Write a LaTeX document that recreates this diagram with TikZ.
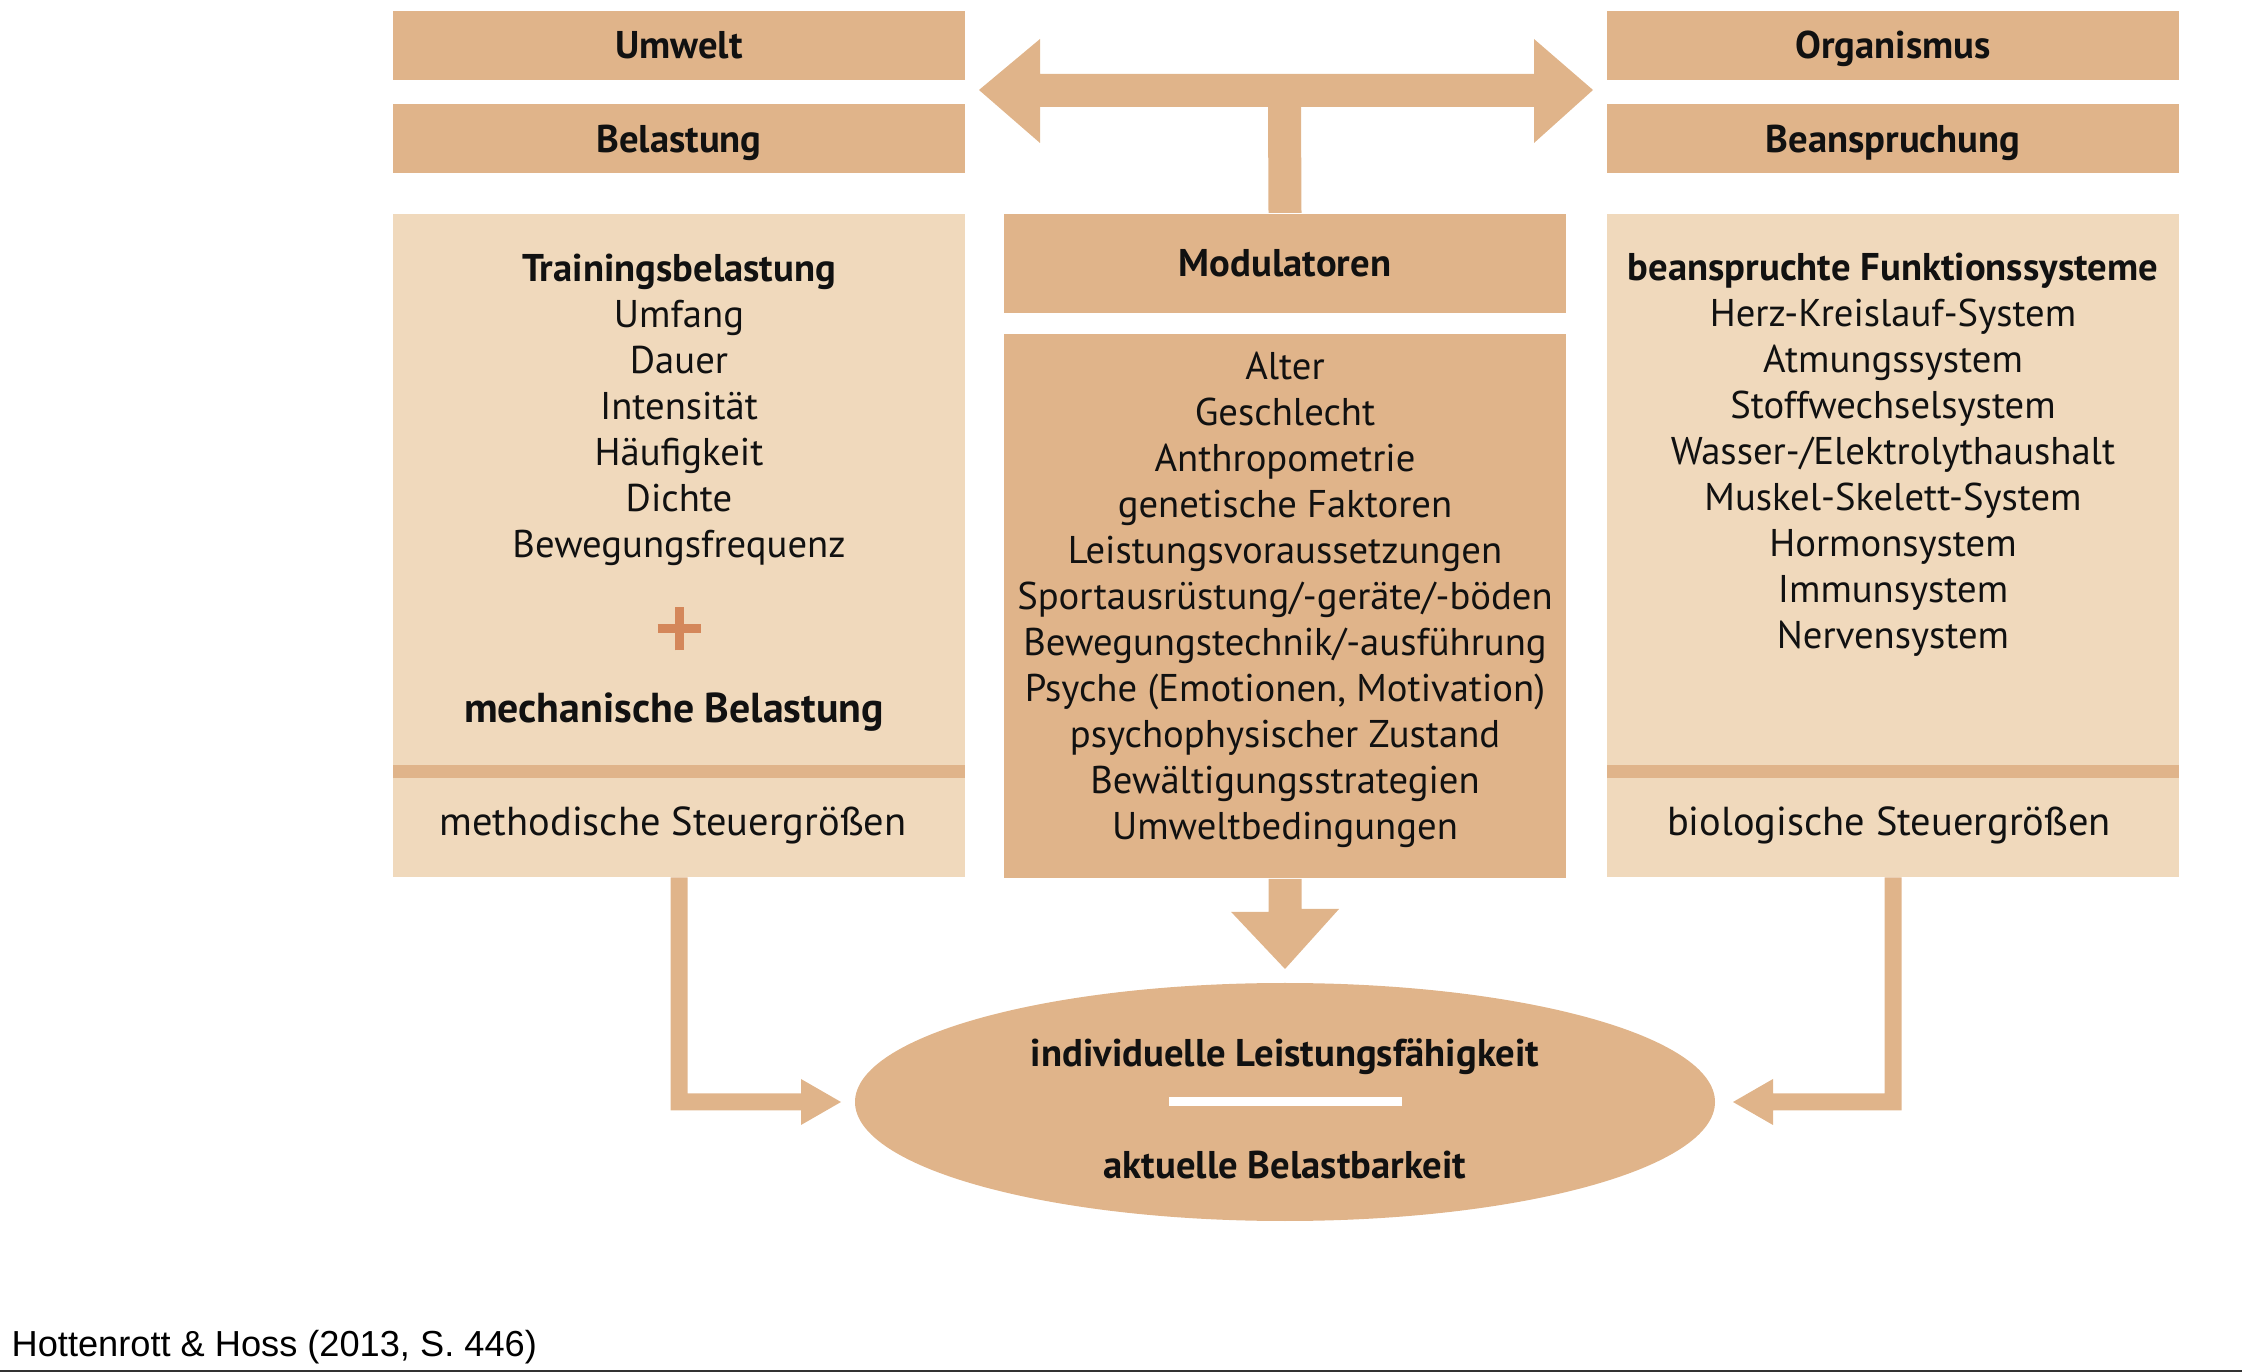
\documentclass[tikz,border=0pt]{standalone}
\usepackage{fontspec}
\setmainfont{PT Sans}
\newfontfamily\citefont{Liberation Sans}
\definecolor{tandark}{HTML}{E0B48A}
\definecolor{tanlight}{HTML}{F0D9BC}
\definecolor{plusorange}{HTML}{D4875A}
\definecolor{ink}{HTML}{111111}
\definecolor{edge}{HTML}{333333}
\usetikzlibrary{positioning, calc, shapes.geometric}
\tikzset{
  headbox/.style={fill=tandark, minimum width=5.72cm, minimum height=0.69cm, inner sep=0pt,
                  font=\fontsize{11}{13}\selectfont\bfseries, text=ink, text height=1.6ex, text depth=0.1ex},
  listbox/.style={fill=tanlight, minimum width=5.72cm, minimum height=6.63cm, inner sep=0pt},
  midbox/.style={fill=tandark, minimum width=5.62cm, inner sep=0pt},
  band/.style={fill=tandark, minimum width=5.72cm, minimum height=0.13cm, inner sep=0pt},
  lines/.style={align=center, inner sep=0pt, text=ink, font=\fontsize{11}{13.1}\selectfont},
  boldline/.style={lines, font=\fontsize{11}{13.1}\selectfont\bfseries},
  fatarrow/.style={fill=tandark},
  plusline/.style={draw=plusorange, line width=0.09cm},
}
\begin{document}
\begin{tikzpicture}
\useasboundingbox (0,0) rectangle (22.42,-13.72);
% top row
\node[headbox] (umwelt) at (6.79,-0.455) {Umwelt};
\node[headbox,below=0.23 of umwelt] (belastung) {Belastung};
\node[headbox] (organismus) at (18.93,-0.455) {Organismus};
\node[headbox,below=0.23 of organismus] (beansp) {Beanspruchung};
% left column
\node[listbox,anchor=north] (lbox) at (6.79,-2.13) {};
\node[band] (lband) at (6.79,-7.715) {};
\node[lines] (ltext) at (6.79,-4.10) {\textbf{Trainingsbelastung}\\Umfang\\Dauer\\Intensität\\Häufigkeit\\Dichte\\Bewegungsfrequenz};
\coordinate (plus) at (6.79,-6.29);
\draw[plusline] ($(plus)+(-0.215,0)$) -- ($(plus)+(0.215,0)$);
\draw[plusline] ($(plus)+(0,-0.215)$) -- ($(plus)+(0,0.215)$);
\node[boldline,font=\fontsize{11.9}{14}\selectfont\bfseries] (mech) at (6.74,-7.12) {mechanische Belastung};
\node[lines,font=\fontsize{11.5}{13.5}\selectfont] (method) at (6.73,-8.25) {methodische Steuergrößen};
% right column
\node[listbox,anchor=north] (rbox) at (18.93,-2.13) {};
\node[band] (rband) at (18.93,-7.715) {};
\node[lines] (rtext) at (18.93,-4.55) {\textbf{beanspruchte Funktionssysteme}\\Herz-Kreislauf-System\\Atmungssystem\\Stoffwechselsystem\\Wasser-/Elektrolythaushalt\\Muskel-Skelett-System\\Hormonsystem\\Immunsystem\\Nervensystem};
\node[lines,font=\fontsize{11.5}{13.5}\selectfont] (biolog) at (18.89,-8.25) {biologische Steuergrößen};
% middle column
\node[midbox,minimum height=0.99cm,anchor=north,font=\fontsize{11}{13}\selectfont\bfseries,text=ink] (modhead) at (12.85,-2.13) {Modulatoren};
\node[midbox,minimum height=5.44cm,below=0.20 of modhead] (modlist) {};
\node[lines] (modtext) at (12.85,-6.00) {Alter\\Geschlecht\\Anthropometrie\\genetische Faktoren\\Leistungsvoraussetzungen\\Sportausrüstung/-geräte/-böden\\Bewegungstechnik/-ausführung\\Psyche (Emotionen, Motivation)\\psychophysischer Zustand\\Bewältigungsstrategien\\Umweltbedingungen};
% double arrow above the modulators
\fill[fatarrow] (9.79,-0.90) -- (10.40,-0.39) -- (10.40,-0.74) -- (15.34,-0.74) -- (15.34,-0.39)
  -- (15.93,-0.90) -- (15.34,-1.43) -- (15.34,-1.07) -- (13.01,-1.07)
  -- ($(modhead.north)+(0.165,0)$) -- ($(modhead.north)+(-0.165,0)$)
  -- (12.68,-1.07) -- (10.40,-1.07) -- (10.40,-1.43) -- cycle;
% result
\node[ellipse,fill=tandark,minimum width=8.60cm,minimum height=2.38cm,inner sep=0pt] (perf) at (12.85,-11.02) {};
\node[fill=white,minimum width=2.33cm,minimum height=0.09cm,inner sep=0pt] (bar) at (perf.center) {};
\node[boldline] (indiv) at (12.85,-10.57) {individuelle Leistungsfähigkeit};
\node[boldline] (aktuell) at (12.85,-11.65) {aktuelle Belastbarkeit};
% arrows into the ellipse
\fill[fatarrow] ($(modlist.south)+(-0.165,0)$) -- ++(0,-0.33) -- ++(-0.375,0) -- (12.85,-9.69)
  -- (13.39,-9.09) -- ++(-0.375,0) -- ($(modlist.south)+(0.165,0)$) -- cycle;
\fill[fatarrow] ($(lbox.south)+(-0.085,0)$) |- (8.01,-11.105) -- (8.01,-11.25) -- (8.41,-11.02)
  -- (8.01,-10.79) -- (8.01,-10.935) -| ($(lbox.south)+(0.085,0)$) -- cycle;
\fill[fatarrow] ($(rbox.south)+(0.085,0)$) |- (17.73,-11.105) -- (17.73,-11.25) -- (17.33,-11.02)
  -- (17.73,-10.79) -- (17.73,-10.935) -| ($(rbox.south)+(-0.085,0)$) -- cycle;
% source
\node[anchor=west,inner sep=0pt,font=\citefont\fontsize{10.3}{12}\selectfont] (source) at (0.11,-13.47) {Hottenrott \& Hoss (2013, S. 446)};
\draw[edge,line width=0.02cm] (0,-13.71) -- (22.42,-13.71);
\end{tikzpicture}
\end{document}
